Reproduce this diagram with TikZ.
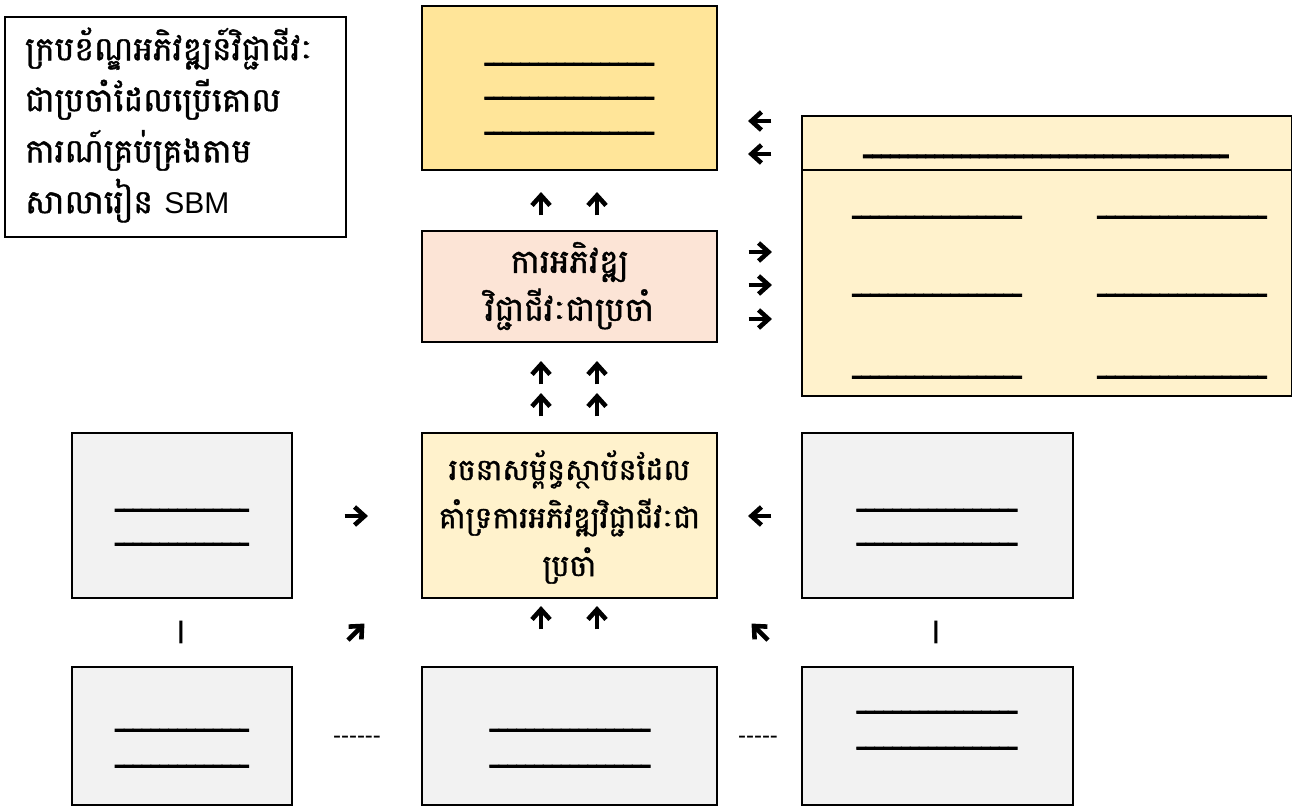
\documentclass[tikz,border=0pt]{standalone}
\usepackage{fontspec}
\newfontfamily\kh[Script=Khmer, FakeBold=1.2]{Battambang}
\newfontfamily\lat{Liberation Sans}
\newfontfamily\latfb[FakeBold=4]{Liberation Sans}
\newfontfamily\latfbb[FakeBold=5]{Liberation Sans}
\ExplSyntaxOn
\NewDocumentCommand\blanks{m}{\prg_replicate:nn{#1}{\_}}
\ExplSyntaxOff
\definecolor{gold}{HTML}{FFE599}
\definecolor{pinkf}{HTML}{FCE4D6}
\definecolor{cream}{HTML}{FFF2CC}
\definecolor{greyf}{HTML}{F2F2F2}
\tikzset{
  box/.style={draw=black, line width=2pt, inner sep=0pt},
  khtext/.style={font=\kh\fontsize{33}{48}\selectfont, align=center, inner sep=0pt},
  blank/.style={font=\latfb\fontsize{16}{16}\selectfont, inner sep=0pt, yscale=2},
  hblank/.style={font=\latfbb\fontsize{16}{16}\selectfont, inner sep=0pt, yscale=2.2},
  smallmark/.style={font=\lat\bfseries\fontsize{24}{24}\selectfont, inner sep=0pt},
  garrow/.pic={
    \draw[line width=4.6pt] (-12,0) -- (7,0);
    \draw[line width=4.6pt, miter limit=10] (-1.5,-9.5) -- (9,0) -- (-1.5,9.5);
  }
}
\begin{document}
\begin{tikzpicture}[x=1pt,y=-1pt]
\path[use as bounding box, fill=white] (0,0) rectangle (1292,807);

% title
\draw[line width=1.3pt, fill=white] (5,17) rectangle (346,237);
\node[khtext, anchor=west, align=left, font=\kh\fontsize{33}{51}\selectfont] (title) at (25,125)
  {ក្របខ័ណ្ឌអភិវឌ្ឍន៍វិជ្ជាជីវៈ\\ជាប្រចាំដែលប្រើគោល\\ការណ៍គ្រប់គ្រងតាម\\សាលារៀន {\lat\fontsize{30}{51}\selectfont SBM}};

% boxes
\draw[box, fill=gold] (422,6) rectangle (717,170) coordinate (topBR);
\coordinate (top) at (569.5,88);
\draw[box, fill=pinkf] (422,231) rectangle (717,342);
\node[khtext] (dev) at (569.5,286) {ការអភិវឌ្ឍ\\វិជ្ជាជីវៈជាប្រចាំ};
\draw[box, fill=cream] (422,433) rectangle (717,598);
\node[khtext, font=\kh\fontsize{30}{48}\selectfont] (struct) at (569.5,517) {រចនាសម្ព័ន្ធស្ថាប័នដែល\\គាំទ្រការអភិវឌ្ឍវិជ្ជាជីវៈជា\\ប្រចាំ};
\draw[box, fill=cream] (802,116) rectangle (1292,396);
\draw[line width=2pt] (802,170) -- (1292,170);
\draw[box, fill=greyf] (72,433) rectangle (292,598);
\draw[box, fill=greyf] (802,433) rectangle (1073,598);
\draw[box, fill=greyf] (72,667) rectangle (292,805);
\draw[box, fill=greyf] (422,667) rectangle (717,805);
\draw[box, fill=greyf] (802,667) rectangle (1073,805);

% blank lines
\foreach \y/\n in {62/t1,96/t2,131/t3}{\node[blank] (\n) at (569.5,\y) {\blanks{19}};}
\node[hblank] (hdr) at (1046,154) {\blanks{41}};
\foreach \y/\n in {215/a,293/b,375/c}{
  \node[blank] (l\n) at (937,\y) {\blanks{19}};
  \node[blank] (r\n) at (1182,\y) {\blanks{19}};}
\foreach \y/\n in {508/a,542/b}{\node[blank] (ml\n) at (182,\y) {\blanks{15}};}
\foreach \y/\n in {508/a,542/b}{\node[blank] (mr\n) at (937,\y) {\blanks{18}};}
\foreach \y/\n in {728/a,764/b}{\node[blank] (bl\n) at (182,\y) {\blanks{15}};}
\foreach \y/\n in {728/a,764/b}{\node[blank] (bm\n) at (570,\y) {\blanks{18}};}
\foreach \y/\n in {710/a,746/b}{\node[blank] (br\n) at (937,\y) {\blanks{18}};}

% arrow glyphs
\foreach \x/\y/\r/\n in {541/204/90/u1,597/204/90/u2,541/373/90/u3,597/373/90/u4,541/405/90/u5,597/405/90/u6,541/618/90/u7,597/618/90/u8,
  760/121/180/l1,760/154/180/l2,760/252/0/r1,760/285/0/r2,760/319/0/r3,356/516/0/r4,760/516/180/l3,356/632/45/ne,760/632/135/nw}
  {\pic[rotate=\r, scale=0.95] (\n) at (\x,\y) {garrow};}

% marks
\node[smallmark] (bar1) at (181,632) {|};
\node[smallmark] (bar2) at (936,632) {|};
\node[smallmark, font=\lat\fontsize{24}{24}\selectfont] (dash1) at (357,740) {------};
\node[smallmark, font=\lat\fontsize{24}{24}\selectfont] (dash2) at (758,740) {-----};
\end{tikzpicture}
\end{document}
